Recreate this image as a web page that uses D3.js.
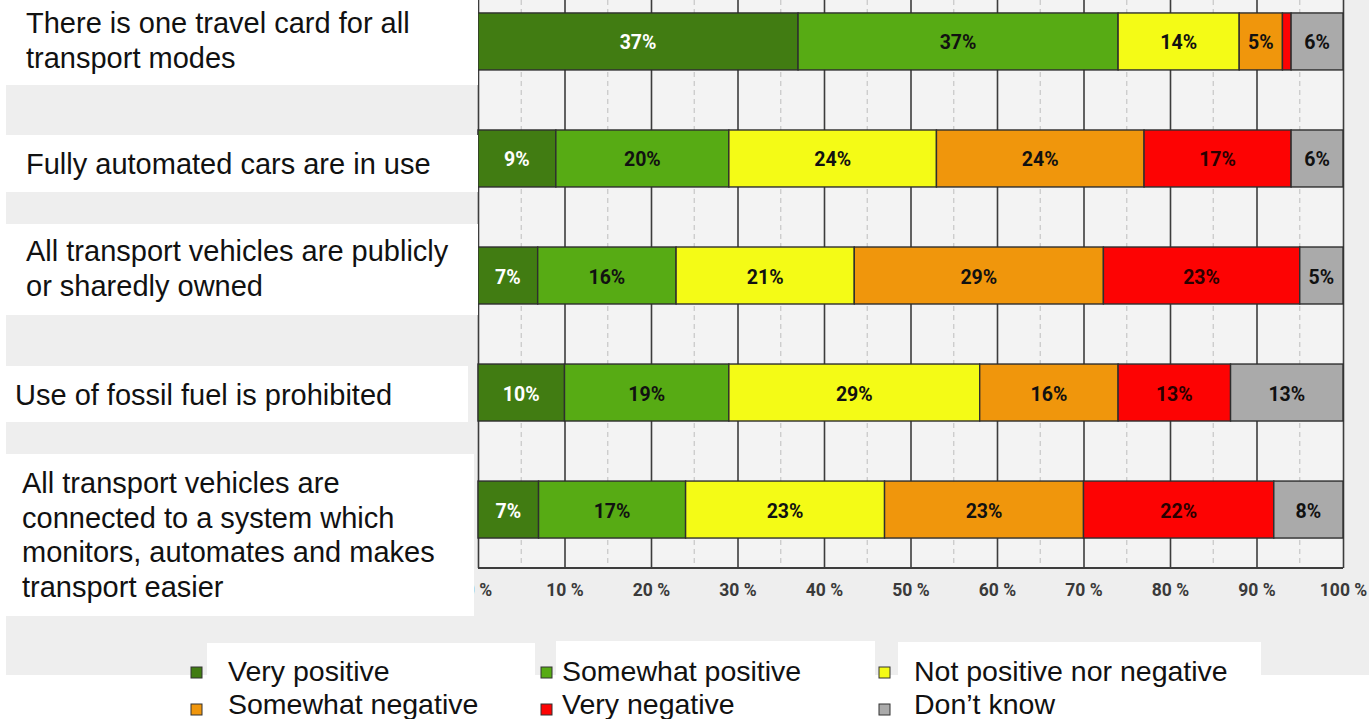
<!DOCTYPE html>
<html><head><meta charset="utf-8">
<script src="https://cdn.jsdelivr.net/npm/d3@7"></script>
<style>
html,body{margin:0;padding:0;background:#fff;}
svg{display:block;}
</style></head>
<body>
<svg id="chart" width="1369" height="719"></svg>
<script>
// ---------- DATA ----------
const categories = [
  ["There is one travel card for all", "transport modes"],
  ["Fully automated cars are in use"],
  ["All transport vehicles are publicly", "or sharedly owned"],
  ["Use of fossil fuel is prohibited"],
  ["All transport vehicles are", "connected to a system which", "monitors, automates and makes", "transport easier"]
];
const seriesNames = ["Very positive", "Somewhat positive", "Not positive nor negative",
                     "Somewhat negative", "Very negative", "Don\u2019t know"];
const veryPositive     = [37, 9, 6.9, 10, 7];
const somewhatPositive = [37, 20, 16, 19, 17];
const notPosNorNeg     = [14, 24, 20.6, 29, 23];
const somewhatNegative = [5, 24, 28.8, 16, 23];
const veryNegative     = [1, 17, 22.7, 13, 22];
const dontKnow         = [6, 6, 5, 13, 8];
const tickValues = [0, 10, 20, 30, 40, 50, 60, 70, 80, 90, 100];
const tickLabels = ["0 %", "10 %", "20 %", "30 %", "40 %", "50 %", "60 %", "70 %", "80 %", "90 %", "100 %"];
const minorTicks = [5, 15, 25, 35, 45, 55, 65, 75, 85, 95];

// ---------- STYLE ----------
const colors = ["#417c12", "#57ab14", "#f4fb16", "#f0960c", "#fd0303", "#aaaaaa"];
const labelColors = ["#ffffff", "#111", "#111", "#111", "#2a0000", "#111"];

const keys = d3.range(seriesNames.length);
const seriesArrays = [veryPositive, somewhatPositive, notPosNorNeg, somewhatNegative, veryNegative, dontKnow];
const table = categories.map((c, i) => {
  const row = {idx: i};
  keys.forEach(k => row[k] = seriesArrays[k][i]);
  return row;
});

const svg = d3.select("#chart");
const W = 1369, H = 719;

// background
svg.append("rect").attr("width", W).attr("height", H).attr("fill", "#ffffff");
svg.append("rect").attr("x", 6).attr("y", 0).attr("width", W - 6).attr("height", 675).attr("fill", "#eeeeee");

const x = d3.scaleLinear().domain([0, 100]).range([478, 1343]);
const y = d3.scaleBand().domain(d3.range(categories.length)).range([-17, 568])
  .paddingInner(0.513).paddingOuter(0.256);
const plotTop = 0, plotBottom = 568;

// plot background
svg.append("rect").attr("x", x(0)).attr("y", plotTop)
  .attr("width", x(100) - x(0)).attr("height", plotBottom - plotTop).attr("fill", "#f3f3f3");

// minor dashed grid
svg.append("g").selectAll("line").data(minorTicks).join("line")
  .attr("x1", d => x(d)).attr("x2", d => x(d))
  .attr("y1", plotTop).attr("y2", plotBottom)
  .attr("stroke", "#c6c6c6").attr("stroke-width", 1.2).attr("stroke-dasharray", "5,4");

// major grid + axis labels
const axis = svg.append("g").attr("transform", `translate(0,${plotBottom})`)
  .call(d3.axisBottom(x).tickValues(tickValues).tickFormat((d, i) => tickLabels[i])
    .tickSize(-(plotBottom - plotTop)).tickSizeOuter(0));
axis.select(".domain").remove();
axis.selectAll(".tick line").attr("stroke", "#3c3c3c").attr("stroke-width", 1.6);
axis.selectAll(".tick text")
  .attr("y", 28).attr("dy", 0)
  .attr("fill", "#3a3a3a")
  .style("font-family", "Roboto, 'DejaVu Sans', sans-serif")
  .style("font-weight", "bold")
  .style("font-size", "17.5px");

// bars
const stacked = d3.stack().keys(keys)(table);
const layers = svg.append("g").selectAll("g").data(stacked).join("g")
  .attr("fill", d => colors[d.key]);
layers.selectAll("rect").data(d => d).join("rect")
  .attr("x", d => x(d[0]))
  .attr("y", d => y(d.data.idx))
  .attr("width", d => x(d[1]) - x(d[0]))
  .attr("height", y.bandwidth())
  .attr("stroke", "#2e2e2e").attr("stroke-width", 1.4);

// value labels
const lab = svg.append("g");
stacked.forEach(layer => {
  layer.forEach(d => {
    const v = d[1] - d[0];
    if (v < 3) return;
    lab.append("text")
      .attr("x", (x(d[0]) + x(d[1])) / 2)
      .attr("y", y(d.data.idx) + y.bandwidth() / 2 + 1)
      .attr("dy", "0.36em")
      .attr("text-anchor", "middle")
      .attr("fill", labelColors[layer.key])
      .style("font-family", "Roboto, 'DejaVu Sans', sans-serif")
      .style("font-weight", "bold")
      .style("font-size", "19.5px")
      .text(Math.round(v) + "%");
  });
});

// bottom axis line
svg.append("line").attr("x1", x(0)).attr("x2", x(100)).attr("y1", plotBottom).attr("y2", plotBottom)
  .attr("stroke", "#3c3c3c").attr("stroke-width", 2);

// category label boxes (slide text boxes)
const labelBoxes = [
  {y0: 0, y1: 85, x1: 478, tx: 26, by: 33},
  {y0: 135, y1: 192, x1: 478, tx: 26, by: 174},
  {y0: 224, y1: 315, x1: 478, tx: 26, by: 261},
  {y0: 366, y1: 422, x1: 468, tx: 15, by: 405},
  {y0: 454, y1: 616, x1: 474, tx: 22, by: 493}
];
const lineH = 34.6;
const lg = svg.append("g");
categories.forEach((lines, i) => {
  const b = labelBoxes[i];
  lg.append("rect").attr("x", 6).attr("y", b.y0).attr("width", b.x1 - 6).attr("height", b.y1 - b.y0).attr("fill", "#ffffff");
  const t = lg.append("text").attr("x", b.tx).attr("y", b.by)
    .attr("fill", "#111")
    .style("font-family", "'Liberation Sans', Arial, sans-serif")
    .style("font-size", "29px");
  lines.forEach((ln, j) => {
    t.append("tspan").attr("x", b.tx).attr("y", b.by + j * lineH).text(ln);
  });
});

// legend
const legBoxes = [
  {x0: 207, x1: 535, y0: 643},
  {x0: 556, x1: 875, y0: 641},
  {x0: 898, x1: 1261, y0: 642}
];
legBoxes.forEach(b => {
  svg.append("rect").attr("x", b.x0).attr("y", b.y0).attr("width", b.x1 - b.x0).attr("height", H - b.y0).attr("fill", "#fff");
});
const legCols = [{mx: 191, tx: 228}, {mx: 541, tx: 562}, {mx: 879, tx: 914}];
const legRows = [{my: 667, ty: 681}, {my: 704, ty: 714}];
seriesNames.forEach((name, i) => {
  const c = legCols[i % 3], r = legRows[Math.floor(i / 3)];
  svg.append("rect").attr("x", c.mx).attr("y", r.my).attr("width", 11).attr("height", 11)
    .attr("fill", colors[i]).attr("stroke", "#333").attr("stroke-width", 1);
  svg.append("text").attr("x", c.tx).attr("y", r.ty)
    .attr("fill", "#111")
    .style("font-family", "'Liberation Sans', Arial, sans-serif")
    .style("font-size", "28.5px")
    .text(name);
});
</script>
</body></html>
